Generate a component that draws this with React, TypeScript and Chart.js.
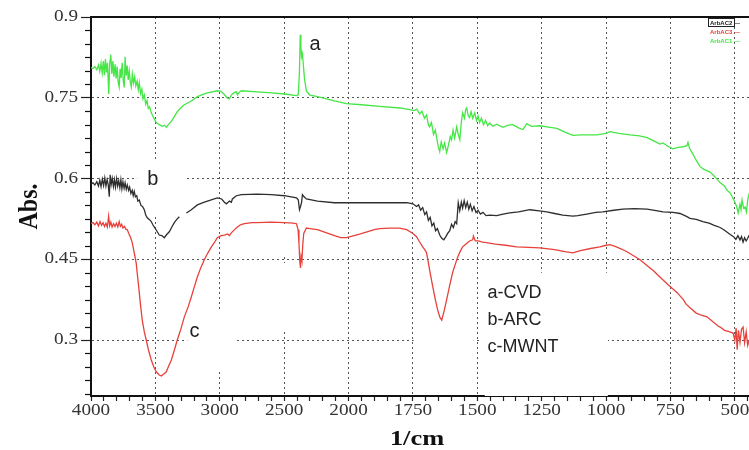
import React, { useEffect, useRef } from "react";
import { Chart, registerables } from "chart.js";

Chart.register(...registerables);

// ---------- data (wavenumber in 1/cm, absorbance) ----------
const xTickWavenumbers = [4000, 3500, 3000, 2500, 2000, 1750, 1500, 1250, 1000, 750, 500];
const yTickValues = [0.9, 0.75, 0.6, 0.45, 0.3];
const curveLetters = ["a", "b", "c"];
const sampleLabels = ["a-CVD", "b-ARC", "c-MWNT"];
const fileLabels = ["ArbAC2 \u2014", "ArbAC3 \u2014", "ArbAC1 \u2014"];

const cvd: [number, number | null][] = [
  [4000,0.806],[3985,0.804],[3970,0.808],[3955,0.802],[3942,0.811],[3932,0.799],[3922,0.814],[3913,0.796],[3904,0.818],[3896,0.792],
  [3888,0.822],[3880,0.797],[3872,0.815],[3862,0.757],[3855,0.812],[3846,0.830],[3838,0.794],[3830,0.818],[3822,0.789],[3813,0.812],
  [3805,0.786],[3797,0.808],[3789,0.779],[3781,0.770],[3774,0.804],[3766,0.787],[3758,0.815],[3750,0.783],[3742,0.769],[3735,0.826],
  [3727,0.791],[3719,0.810],[3711,0.783],[3703,0.800],[3695,0.779],[3687,0.770],[3679,0.794],[3670,0.777],[3661,0.789],[3652,0.772],
  [3642,0.781],[3633,0.765],[3625,0.778],[3615,0.758],[3605,0.766],[3596,0.748],[3586,0.755],[3575,0.738],[3565,0.745],[3555,0.730],
  [3545,0.733],[3532,0.722],[3520,0.716],[3505,0.709],[3493,0.704],[3470,0.700],[3445,0.697],[3428,0.699],[3415,0.695],[3400,0.700],
  [3376,0.706],[3353,0.715],[3330,0.724],[3300,0.732],[3275,0.737],[3221,0.744],[3174,0.752],[3120,0.757],[3096,0.759],[3019,0.763],
  [2990,0.762],[2964,0.756],[2945,0.750],[2925,0.748],[2910,0.755],[2902,0.757],[2885,0.760],[2871,0.761],[2863,0.755],[2850,0.760],
  [2832,0.763],[2708,0.761],[2600,0.759],[2498,0.757],[2404,0.754],[2390,0.756],[2381,0.800],[2375,0.867],[2370,0.846],[2365,0.826],
  [2358,0.832],[2350,0.808],[2342,0.785],[2327,0.762],[2300,0.755],[2241,0.752],[2109,0.744],[2016,0.739],[1950,0.737],[1879,0.734],
  [1800,0.731],[1763,0.728],[1745,0.726],[1735,0.729],[1724,0.720],[1715,0.725],[1705,0.712],[1697,0.718],[1690,0.700],[1685,0.696],
  [1678,0.704],[1670,0.682],[1663,0.690],[1658,0.676],[1652,0.660],[1646,0.650],[1640,0.668],[1633,0.655],[1627,0.666],[1619,0.648],
  [1612,0.662],[1605,0.678],[1600,0.672],[1594,0.690],[1588,0.675],[1580,0.696],[1574,0.682],[1568,0.672],[1562,0.705],[1557,0.722],
  [1550,0.712],[1545,0.728],[1541,0.731],[1535,0.716],[1530,0.713],[1524,0.724],[1518,0.712],[1510,0.722],[1503,0.708],[1497,0.716],
  [1491,0.704],[1484,0.712],[1476,0.700],[1468,0.708],[1460,0.698],[1452,0.703],[1440,0.697],[1425,0.701],[1401,0.695],[1380,0.699],
  [1362,0.700],[1340,0.694],[1323,0.691],[1308,0.702],[1290,0.697],[1257,0.698],[1230,0.696],[1191,0.693],[1160,0.686],[1129,0.680],
  [1100,0.681],[1036,0.681],[1000,0.684],[985,0.687],[950,0.684],[907,0.681],[870,0.679],[841,0.676],[815,0.670],[791,0.664],
  [779,0.666],[760,0.660],[740,0.655],[720,0.658],[700,0.659],[686,0.661],[682,0.667],[676,0.656],[666,0.648],[650,0.634],
  [635,0.622],[620,0.617],[596,0.612],[575,0.602],[557,0.592],[540,0.586],[530,0.578],[518,0.573],[510,0.566],[499,0.555],
  [493,0.548],[487,0.536],[480,0.552],[476,0.542],[472,0.560],[466,0.545],[460,0.547],[455,0.538],[450,0.560],[444,0.573]
];

const arc: [number, number | null][] = [
  [4000,0.590],[3985,0.592],[3970,0.588],[3955,0.594],[3942,0.586],[3932,0.597],[3922,0.585],[3912,0.599],[3902,0.587],[3893,0.601],
  [3884,0.586],[3875,0.598],[3866,0.588],[3858,0.566],[3851,0.607],[3843,0.589],[3835,0.600],[3826,0.585],[3818,0.598],[3810,0.584],
  [3801,0.600],[3793,0.586],[3785,0.596],[3776,0.583],[3768,0.598],[3760,0.581],[3752,0.594],[3743,0.582],[3735,0.592],[3726,0.580],
  [3718,0.588],[3708,0.578],[3700,0.584],[3690,0.572],[3680,0.578],[3672,0.568],[3664,0.576],[3655,0.566],[3645,0.568],[3636,0.558],
  [3625,0.560],[3612,0.550],[3600,0.548],[3586,0.542],[3575,0.532],[3563,0.527],[3548,0.524],[3532,0.520],[3520,0.514],[3509,0.510],
  [3490,0.503],[3470,0.495],[3450,0.494],[3431,0.490],[3412,0.496],[3392,0.501],[3372,0.510],[3353,0.518],[3334,0.524],[3314,0.529],
  [3290,null],[3259,0.536],[3221,0.542],[3174,0.551],[3130,0.555],[3096,0.558],[3019,0.564],[2985,0.562],[2964,0.556],[2949,0.553],
  [2935,0.556],[2925,0.558],[2910,0.556],[2902,0.562],[2871,0.568],[2832,0.570],[2708,0.571],[2600,0.570],[2498,0.568],[2404,0.564],
  [2390,0.560],[2381,0.542],[2373,0.548],[2365,0.555],[2358,0.570],[2345,0.566],[2327,0.562],[2241,0.558],[2109,0.555],[2016,0.555],
  [1879,0.555],[1774,0.555],[1750,0.553],[1736,0.548],[1728,0.551],[1720,0.541],[1712,0.546],[1704,0.533],[1697,0.538],[1690,0.522],
  [1683,0.528],[1676,0.512],[1669,0.517],[1662,0.503],[1655,0.507],[1646,0.495],[1638,0.489],[1630,0.486],[1622,0.492],[1615,0.498],
  [1607,0.503],[1600,0.515],[1593,0.509],[1586,0.520],[1580,0.516],[1574,0.555],[1568,0.540],[1562,0.556],[1557,0.545],[1551,0.559],
  [1545,0.546],[1539,0.556],[1533,0.543],[1527,0.552],[1520,0.540],[1513,0.548],[1505,0.537],[1497,0.541],[1488,0.534],[1478,0.537],
  [1466,0.531],[1452,0.532],[1425,0.531],[1400,0.534],[1374,0.536],[1340,0.538],[1296,0.542],[1260,0.540],[1230,0.538],[1200,0.535],
  [1168,0.532],[1129,0.530],[1110,0.531],[1075,0.534],[1040,0.537],[1013,0.538],[970,0.541],[935,0.543],[890,0.544],[841,0.543],
  [800,0.540],[779,0.538],[740,0.537],[713,0.535],[690,0.530],[674,0.526],[650,0.524],[624,0.520],[600,0.517],[580,0.513],
  [557,0.509],[540,0.504],[518,0.496],[505,0.492],[496,0.487],[488,0.494],[480,0.486],[474,0.492],[468,0.482],[462,0.490],
  [456,0.484],[450,0.489],[444,0.495]
];

const mwnt: [number, number | null][] = [
  [4000,0.516],[3985,0.518],[3970,0.514],[3955,0.519],[3942,0.512],[3930,0.520],[3918,0.513],[3906,0.518],[3895,0.511],[3884,0.517],
  [3873,0.510],[3863,0.530],[3855,0.512],[3846,0.519],[3836,0.510],[3825,0.516],[3814,0.511],[3803,0.517],[3792,0.510],[3781,0.520],
  [3772,0.511],[3762,0.515],[3752,0.508],[3740,0.511],[3730,0.506],[3718,0.505],[3705,0.497],[3692,0.490],[3680,0.481],[3664,0.462],
  [3649,0.443],[3637,0.415],[3625,0.388],[3614,0.362],[3602,0.337],[3586,0.315],[3571,0.300],[3552,0.280],[3532,0.263],[3512,0.250],
  [3493,0.241],[3470,0.235],[3454,0.233],[3435,0.237],[3415,0.241],[3396,0.252],[3376,0.263],[3353,0.281],[3330,0.300],[3300,0.322],
  [3275,0.343],[3245,0.362],[3221,0.380],[3196,0.400],[3174,0.417],[3148,0.434],[3120,0.449],[3092,0.462],[3065,0.473],[3040,0.482],
  [3019,0.490],[2990,0.494],[2964,0.495],[2940,0.497],[2925,0.494],[2910,0.499],[2885,0.505],[2863,0.510],[2840,0.514],[2809,0.516],
  [2750,0.518],[2708,0.518],[2600,0.519],[2498,0.518],[2430,0.517],[2404,0.516],[2392,0.505],[2385,0.480],[2378,0.445],[2373,0.434],
  [2368,0.455],[2362,0.448],[2356,0.475],[2348,0.498],[2327,0.508],[2300,0.507],[2241,0.505],[2170,0.499],[2109,0.494],[2060,0.490],
  [2016,0.490],[1960,0.496],[1900,0.505],[1879,0.507],[1840,0.508],[1802,0.508],[1774,0.505],[1750,0.498],[1736,0.492],[1724,0.482],
  [1712,0.473],[1704,0.468],[1697,0.462],[1685,0.430],[1673,0.399],[1663,0.375],[1654,0.356],[1645,0.342],[1638,0.337],[1631,0.350],
  [1625,0.362],[1619,0.375],[1607,0.402],[1596,0.425],[1586,0.440],[1576,0.454],[1565,0.466],[1557,0.473],[1545,0.478],[1530,0.484],
  [1518,0.486],[1515,0.493],[1508,0.484],[1495,0.484],[1480,0.482],[1464,0.481],[1430,0.478],[1390,0.476],[1347,0.473],[1300,0.472],
  [1257,0.471],[1200,0.468],[1160,0.464],[1129,0.462],[1100,0.466],[1060,0.470],[1024,0.473],[1000,0.476],[985,0.477],[960,0.473],
  [940,0.469],[919,0.464],[895,0.457],[868,0.449],[840,0.438],[815,0.428],[791,0.417],[760,0.403],[724,0.388],[700,0.375],
  [690,0.367],[674,0.360],[650,0.350],[630,0.346],[608,0.343],[585,0.334],[565,0.326],[557,0.324],[540,0.318],[525,0.316],
  [507,0.313],[500,0.300],[495,0.322],[491,0.282],[486,0.318],[480,0.296],[474,0.320],[468,0.324],[462,0.295],[456,0.315],
  [450,0.290],[444,0.300]
];

// ---------- axis helpers ----------
// The spectrometer axis changes scale at 2000 1/cm (500 per division above, 250 below).
const toU = (w: number) => (w >= 2000 ? (4000 - w) / 500 : 4 + (2000 - w) / 250);
const toPoints = (s: [number, number | null][]) => s.map(([w, v]) => ({ x: toU(w), y: v }));
const isMajorY = (v: number) => yTickValues.some((t) => Math.abs(t - v) < 1e-6);
const isMajorX = (u: number) => Math.abs(u - Math.round(u)) < 1e-6;

const SERIF = "'Liberation Serif', 'Times New Roman', serif";
const SANS = "'Liberation Sans', Arial, sans-serif";
const STRETCH = 1.2;

// white label backgrounds (in data coordinates: wavenumber range, absorbance range)
const masks: [number, number, number, number][] = [
  [3641, 3267, 0.534, 0.635],
  [3252, 2871, 0.244, 0.356],
  [1471, 993, 0.196, 0.425],
  [1747, 1514, 0.293, 0.306],
  [1487, 993, 0.293, 0.306],
  [2521, 2475, 0.454, 0.514],
  [2521, 2475, 0.319, 0.443],
];

function stretchedText(ctx: any, text: string, x: number, y: number, align: string) {
  ctx.save();
  ctx.translate(x, y);
  ctx.scale(STRETCH, 1);
  ctx.textAlign = align;
  ctx.fillText(text, 0, 0);
  ctx.restore();
}

const decorPlugin = {
  id: "decor",
  beforeDatasetsDraw(chart: any) {
    const { ctx, scales } = chart;
    const xs = scales.x, ys = scales.y;
    ctx.save();
    ctx.fillStyle = "#ffffff";
    masks.forEach(([w1, w2, v1, v2]) => {
      const x1 = xs.getPixelForValue(toU(w1));
      const x2 = xs.getPixelForValue(toU(w2));
      const y1 = ys.getPixelForValue(v2);
      const y2 = ys.getPixelForValue(v1);
      ctx.fillRect(x1, y1, x2 - x1, y2 - y1);
    });
    ctx.restore();
  },
  afterDraw(chart: any) {
    const { ctx, chartArea, scales } = chart;
    const xs = scales.x, ys = scales.y;
    ctx.save();
    // top frame line
    ctx.strokeStyle = "#111";
    ctx.lineWidth = 2;
    ctx.beginPath();
    ctx.moveTo(chartArea.left, chartArea.top);
    ctx.lineTo(chartArea.right, chartArea.top);
    ctx.stroke();
    // minor y ticks
    ctx.lineWidth = 1.2;
    ys.ticks.forEach((t: any) => {
      if (!isMajorY(t.value)) {
        const y = Math.round(ys.getPixelForValue(t.value)) + 0.5;
        ctx.beginPath();
        ctx.moveTo(chartArea.left - 6, y);
        ctx.lineTo(chartArea.left, y);
        ctx.stroke();
      }
    });
    // tick labels (horizontally stretched serif like the original scan)
    ctx.fillStyle = "#333";
    ctx.font = `16px ${SERIF}`;
    ctx.textBaseline = "middle";
    xTickWavenumbers.forEach((w) => {
      stretchedText(ctx, String(w), xs.getPixelForValue(toU(w)), chartArea.bottom + 15, "center");
    });
    yTickValues.forEach((v) => {
      stretchedText(ctx, String(v), chartArea.left - 13, ys.getPixelForValue(v), "right");
    });
    // axis titles
    ctx.fillStyle = "#111";
    ctx.font = `bold 22px ${SERIF}`;
    stretchedText(ctx, "1/cm", 417, chartArea.bottom + 43, "center");
    // curve letters
    ctx.fillStyle = "#222";
    ctx.font = `20px ${SANS}`;
    ctx.textBaseline = "alphabetic";
    ctx.textAlign = "left";
    const letterPos: [number, number][] = [[2304, 0.839], [3563, 0.588], [3236, 0.306]];
    curveLetters.forEach((l, i) => {
      ctx.fillText(l, xs.getPixelForValue(toU(letterPos[i][0])), ys.getPixelForValue(letterPos[i][1]));
    });
    // sample legend
    ctx.font = `18px ${SANS}`;
    const legendY = [0.378, 0.328, 0.278];
    sampleLabels.forEach((l, i) => {
      ctx.fillText(l, xs.getPixelForValue(toU(1460)), ys.getPixelForValue(legendY[i]));
    });
    // tiny instrument legend (top right)
    const cols = ["#222", "#e8413a", "#3ee83e"];
    ctx.font = `bold 6px ${SANS}`;
    fileLabels.forEach((l, i) => {
      const x = chartArea.right - 39;
      const y = chartArea.top + 8 + i * 9;
      ctx.fillStyle = cols[i];
      ctx.fillText(l, x, y);
    });
    ctx.strokeStyle = "#222";
    ctx.lineWidth = 1;
    ctx.strokeRect(chartArea.right - 40.5, chartArea.top + 1.5, 26, 8);
    // y axis title
    ctx.fillStyle = "#111";
    ctx.font = `bold 24px ${SERIF}`;
    ctx.textAlign = "center";
    ctx.textBaseline = "middle";
    ctx.translate(30, (chartArea.top + chartArea.bottom) / 2);
    ctx.rotate(-Math.PI / 2);
    ctx.scale(1, 1.15);
    ctx.fillText("Abs.", 0, 0);
    ctx.restore();
  },
};

export default function App() {
  const ref = useRef<HTMLCanvasElement>(null);
  useEffect(() => {
    document.body.style.margin = "0";
    const canvas = ref.current!;
    const chart = new Chart(canvas, {
      type: "line",
      data: {
        datasets: [
          { label: sampleLabels[0], data: toPoints(cvd) as any, borderColor: "#45e645", borderWidth: 1.3, pointRadius: 0, tension: 0 },
          { label: sampleLabels[1], data: toPoints(arc) as any, borderColor: "#2e2e2e", borderWidth: 1.3, pointRadius: 0, tension: 0 },
          { label: sampleLabels[2], data: toPoints(mwnt) as any, borderColor: "#e8413a", borderWidth: 1.3, pointRadius: 0, tension: 0 },
        ],
      },
      options: {
        animation: false,
        responsive: false,
        devicePixelRatio: 1,
        spanGaps: false,
        layout: { padding: { top: 17, left: 0, right: 0, bottom: 0 } },
        plugins: { legend: { display: false }, tooltip: { enabled: false } },
        scales: {
          x: {
            type: "linear",
            min: 0,
            max: 10.22,
            afterBuildTicks: (scale: any) => {
              const t = [];
              for (let i = 0; i <= 51; i++) t.push({ value: Math.round(i * 0.2 * 1000) / 1000 });
              scale.ticks = t;
            },
            afterFit: (scale: any) => { scale.height = 54; },
            ticks: { display: false, autoSkip: false, maxRotation: 0 },
            grid: {
              color: (c: any) => (c.tick && isMajorX(c.tick.value) && c.tick.value > 0 ? "#555" : "rgba(0,0,0,0)"),
              lineWidth: 1,
              tickLength: 5,
              tickColor: "#222",
              tickWidth: 1.2,
            },
            border: { display: true, color: "#111", width: 2, dash: [2, 3] },
            title: { display: false },
          },
          y: {
            type: "linear",
            min: 0.196,
            max: 0.9,
            afterBuildTicks: (scale: any) => {
              const t = [];
              for (let i = 0; i <= 28; i++) t.push({ value: Math.round((0.2 + i * 0.025) * 1000) / 1000 });
              scale.ticks = t;
            },
            afterFit: (scale: any) => { scale.width = 91; },
            ticks: { display: false, autoSkip: false },
            grid: {
              color: (c: any) => (c.tick && isMajorY(c.tick.value) && c.tick.value < 0.89 ? "#555" : "rgba(0,0,0,0)"),
              lineWidth: 1,
              tickLength: 10,
              tickColor: (c: any) => (c.tick && isMajorY(c.tick.value) ? "#222" : "rgba(0,0,0,0)"),
              tickWidth: 1.2,
            },
            border: { display: true, color: "#111", width: 2, dash: [2, 3] },
            title: { display: false },
          },
        },
      },
      plugins: [decorPlugin],
    } as any);
    return () => chart.destroy();
  }, []);
  return (
    <div style={{ width: 749, height: 450 }}>
      <canvas ref={ref} width={749} height={450} style={{ display: "block" }} />
    </div>
  );
}
